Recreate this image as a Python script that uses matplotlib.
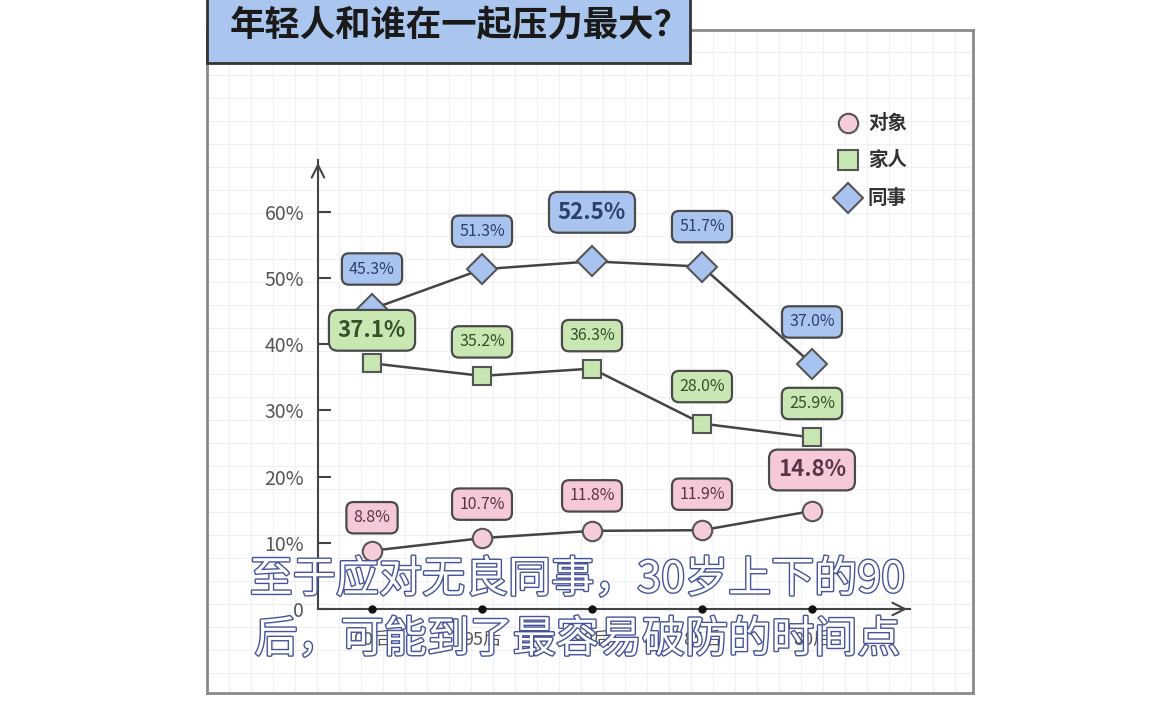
import matplotlib.pyplot as plt
import matplotlib.patheffects as pe
from matplotlib.patches import Rectangle

plt.rcParams['font.family'] = ['Noto Sans CJK SC', 'DejaVu Sans']

# 数据
groups = ['00后', '95后', '90后', '85后', '80后']
partner = [8.8, 10.7, 11.8, 11.9, 14.8]     # 对象
family = [37.1, 35.2, 36.3, 28.0, 25.9]     # 家人
colleague = [45.3, 51.3, 52.5, 51.7, 37.0]  # 同事
yticks = [0, 10, 20, 30, 40, 50, 60]
ytick_labels = ['0', '10%', '20%', '30%', '40%', '50%', '60%']

W, H = 1152, 720
fig = plt.figure(figsize=(W / 100, H / 100), dpi=100)
fig.patch.set_facecolor('white')


def px(x0, y0, x1, y1):
    # 像素坐标(左上原点) -> figure 坐标
    return [x0 / W, 1 - y1 / H, (x1 - x0) / W, (y1 - y0) / H]


# 背景网格卡片
bg = fig.add_axes(px(207, 30, 973, 693))
bg.set_xlim(0, 766)
bg.set_ylim(663, 0)
for gx in range(22, 766, 22):
    bg.axvline(gx, color='#eef0f3', lw=0.8)
for gy in range(22, 663, 23):
    bg.axhline(gy, color='#eef0f3', lw=0.8)
bg.set_xticks([])
bg.set_yticks([])
for s in bg.spines.values():
    s.set_color('#8a8a8a')
    s.set_linewidth(2)

# 标题框
fig.patches.append(Rectangle((207 / W, 1 - 63 / H), (690 - 207) / W, 70 / H,
                             transform=fig.transFigure, facecolor='#aac6ee',
                             edgecolor='#333333', lw=2, zorder=5))
fig.text(460 / W, 1 - 25 / H, '年轻人和谁在一起压力最大？', fontsize=25.5,
         fontweight='bold', color='#1a1a1a', ha='center', va='center', zorder=6)

# 主图
ax = fig.add_axes(px(318, 160, 910, 609))
ax.set_facecolor('none')
ax.set_xlim(-0.491, 4.891)
ax.set_ylim(0, 67.8)
for s in ['top', 'right']:
    ax.spines[s].set_visible(False)
for s in ['left', 'bottom']:
    ax.spines[s].set_color('#444444')
    ax.spines[s].set_linewidth(1.5)
ax.annotate('', xy=(0, 1.0), xycoords='axes fraction', xytext=(0, 0.95),
            arrowprops=dict(arrowstyle='->,head_length=0.9,head_width=0.45',
                            color='#444444', lw=1.5))
ax.annotate('', xy=(1.0, 0), xycoords='axes fraction', xytext=(0.97, 0),
            arrowprops=dict(arrowstyle='->,head_length=0.9,head_width=0.45',
                            color='#444444', lw=1.5))

ax.set_yticks(yticks)
ax.set_yticklabels(ytick_labels)
ax.tick_params(axis='y', direction='in', length=9, width=1.5, colors='#444444',
               labelcolor='#555555', labelsize=14, pad=10)
xs = list(range(len(groups)))
ax.set_xticks(xs)
ax.set_xticklabels(groups)
ax.tick_params(axis='x', length=0, labelcolor='#555555', labelsize=13, pad=16)
ax.plot(xs, [0] * len(xs), 'o', color='#111111', ms=5, clip_on=False, zorder=4)

series = [
    ('对象', partner, 'o', 14, '#f7ccd9', '#f5c9d8', '#5a3346', [33, 34, 35, 36, 41], 4),
    ('家人', family, 's', 13, '#c7e6b2', '#c9e7b3', '#33502a', [33, 34, 33, 37, 34], 0),
    ('同事', colleague, 'D', 15, '#a9c3f0', '#aac4f0', '#2e3f6e', [40, 38, 49, 40, 42], 2),
]

for name, vals, mk, ms, fc, boxc, tc, offs, hi in series:
    ax.plot(xs, vals, '-', color='#444444', lw=1.8, zorder=3)
    ax.plot(xs, vals, mk, ms=ms, markerfacecolor=fc, markeredgecolor='#555555',
            markeredgewidth=1.5, linestyle='none', zorder=4)
    for i, v in enumerate(vals):
        big = (i == hi)
        ax.annotate(f'{v:.1f}%', xy=(i, v), xytext=(0, offs[i]),
                    textcoords='offset pixels', ha='center', va='center',
                    fontsize=16 if big else 11.5,
                    fontweight='bold' if big else 'normal', color=tc,
                    bbox=dict(boxstyle='round,pad=0.4' if big else 'round,pad=0.45',
                              facecolor=boxc, edgecolor='#4a4a4a', lw=1.6),
                    zorder=6)

# 图例
legend_items = [('对象', 'o', 14, '#f7ccd9', 123), ('家人', 's', 14, '#c7e6b2', 160),
                ('同事', 'D', 15, '#a9c3f0', 198)]
lg = fig.add_axes(px(830, 100, 940, 220))
lg.set_xlim(830, 940)
lg.set_ylim(220, 100)
lg.axis('off')
for name, mk, ms, fc, yy in legend_items:
    lg.plot([848], [yy], mk, ms=ms, markerfacecolor=fc, markeredgecolor='#555555',
            markeredgewidth=1.5)
    lg.text(868, yy, name, fontsize=14, fontweight='bold', color='#333333', va='center')

# 字幕
sub_fx = [pe.withStroke(linewidth=2, foreground='#45549a')]
fig.text(577 / W, 1 - 580 / H, '至于应对无良同事，30岁上下的90', fontsize=31,
         color='white', ha='center', va='center', path_effects=sub_fx, zorder=10)
fig.text(577 / W, 1 - 640 / H, '后，可能到了最容易破防的时间点', fontsize=31,
         color='white', ha='center', va='center', path_effects=sub_fx, zorder=10)

fig.savefig('out.png', dpi=100)
